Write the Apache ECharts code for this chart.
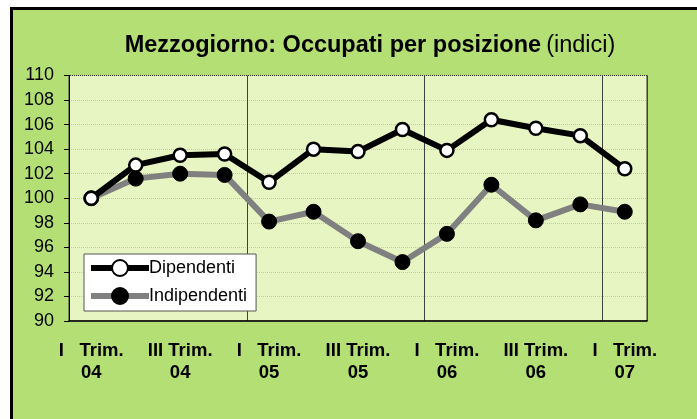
<!DOCTYPE html>
<html><head><meta charset="utf-8">
<script src="https://cdn.jsdelivr.net/npm/echarts@6/dist/echarts.min.js"></script>
<style>
html,body{margin:0;padding:0;background:#fff;}
#wrap{position:relative;width:697px;height:419px;overflow:hidden;background:#fff;}
#bg{position:absolute;left:10px;top:7px;width:700px;height:420px;background:#b4df74;border-left:3.5px solid #000;border-top:3.5px solid #000;}
#chart{position:absolute;left:0;top:0;width:697px;height:419px;}
</style></head>
<body><div id="wrap"><div id="bg"></div><div id="chart"></div></div>
<script>
var categories = ['I   Trim.\n04','II Trim.\n04','III Trim.\n04','IV Trim.\n04',
                  'I   Trim.\n05','II Trim.\n05','III Trim.\n05','IV Trim.\n05',
                  'I   Trim.\n06','II Trim.\n06','III Trim.\n06','IV Trim.\n06',
                  'I   Trim.\n07'];
var dipendenti   = [100, 102.7, 103.5, 103.6, 101.3, 104.0, 103.8, 105.6, 103.9, 106.4, 105.7, 105.1, 102.4];
var indipendenti = [100, 101.6, 102.0, 101.9, 98.1, 98.9, 96.5, 94.8, 97.1, 101.1, 98.2, 99.5, 98.9];
var yMin = 90, yMax = 110, yStep = 2;

var chart = echarts.init(document.getElementById('chart'), null, {renderer:'canvas'});
var font = 'Arial, "Liberation Sans", sans-serif';
chart.setOption({
  backgroundColor: 'transparent',
  animation: false,
  title: {
    text: '{b|Mezzogiorno: Occupati per posizione} {n|(indici)}',
    left: 365, top: 29, textAlign: 'center',
    textStyle: {
      rich: {
        b: {fontFamily: font, fontWeight: 'bold', fontSize: 23.5, color: '#000'},
        n: {fontFamily: font, fontWeight: 'normal', fontSize: 23.5, color: '#000'}
      }
    }
  },
  legend: {
    left: 84, top: 254, orient: 'vertical',
    backgroundColor: '#fff', borderColor: '#555', borderWidth: 1,
    padding: [5, 9, 6, 4], itemGap: 10, itemWidth: 58, itemHeight: 20,
    textStyle: {fontFamily: font, fontSize: 18, color: '#000', padding: [0,0,0,-5]},
    data: [
      {name: 'Dipendenti', lineStyle: {width: 6, color: '#000'}},
      {name: 'Indipendenti', lineStyle: {width: 6, color: '#808080'}}
    ]
  },
  grid: {
    left: 69, right: 50, top: 75.5, bottom: 98, show: true,
    backgroundColor: '#e6f5c1', borderColor: '#333', borderWidth: 1
  },
  xAxis: {
    type: 'category', data: categories, boundaryGap: true,
    axisLine: {lineStyle: {color: '#000', width: 1.5}},
    axisTick: {show: false},
    axisLabel: {interval: 1, fontFamily: font, fontWeight: 'bold', fontSize: 18.5, color: '#000',
                lineHeight: 22, margin: 19},
    splitLine: {show: true, interval: function (i) { return i > 0 && i % 4 === 0; },
                lineStyle: {color: '#404040', width: 1}}
  },
  yAxis: {
    type: 'value', min: yMin, max: yMax, interval: yStep,
    axisLine: {show: true, lineStyle: {color: '#000', width: 1}},
    axisTick: {show: true, length: 5, lineStyle: {color: '#000'}},
    axisLabel: {fontFamily: font, fontSize: 18, color: '#000', margin: 15},
    splitLine: {show: true, lineStyle: {color: '#c4c4c4', type: 'dotted', width: 1}}
  },
  series: [
    {name: 'Dipendenti', type: 'line', data: dipendenti, z: 4,
     lineStyle: {color: '#000', width: 6}, itemStyle: {color: '#fff', borderColor: '#000', borderWidth: 2.5},
     symbol: 'circle', symbolSize: 13},
    {name: 'Indipendenti', type: 'line', data: indipendenti, z: 3,
     lineStyle: {color: '#808080', width: 6}, itemStyle: {color: '#000', borderColor: '#000', borderWidth: 1},
     symbol: 'circle', symbolSize: 15}
  ]
});
</script></body></html>
